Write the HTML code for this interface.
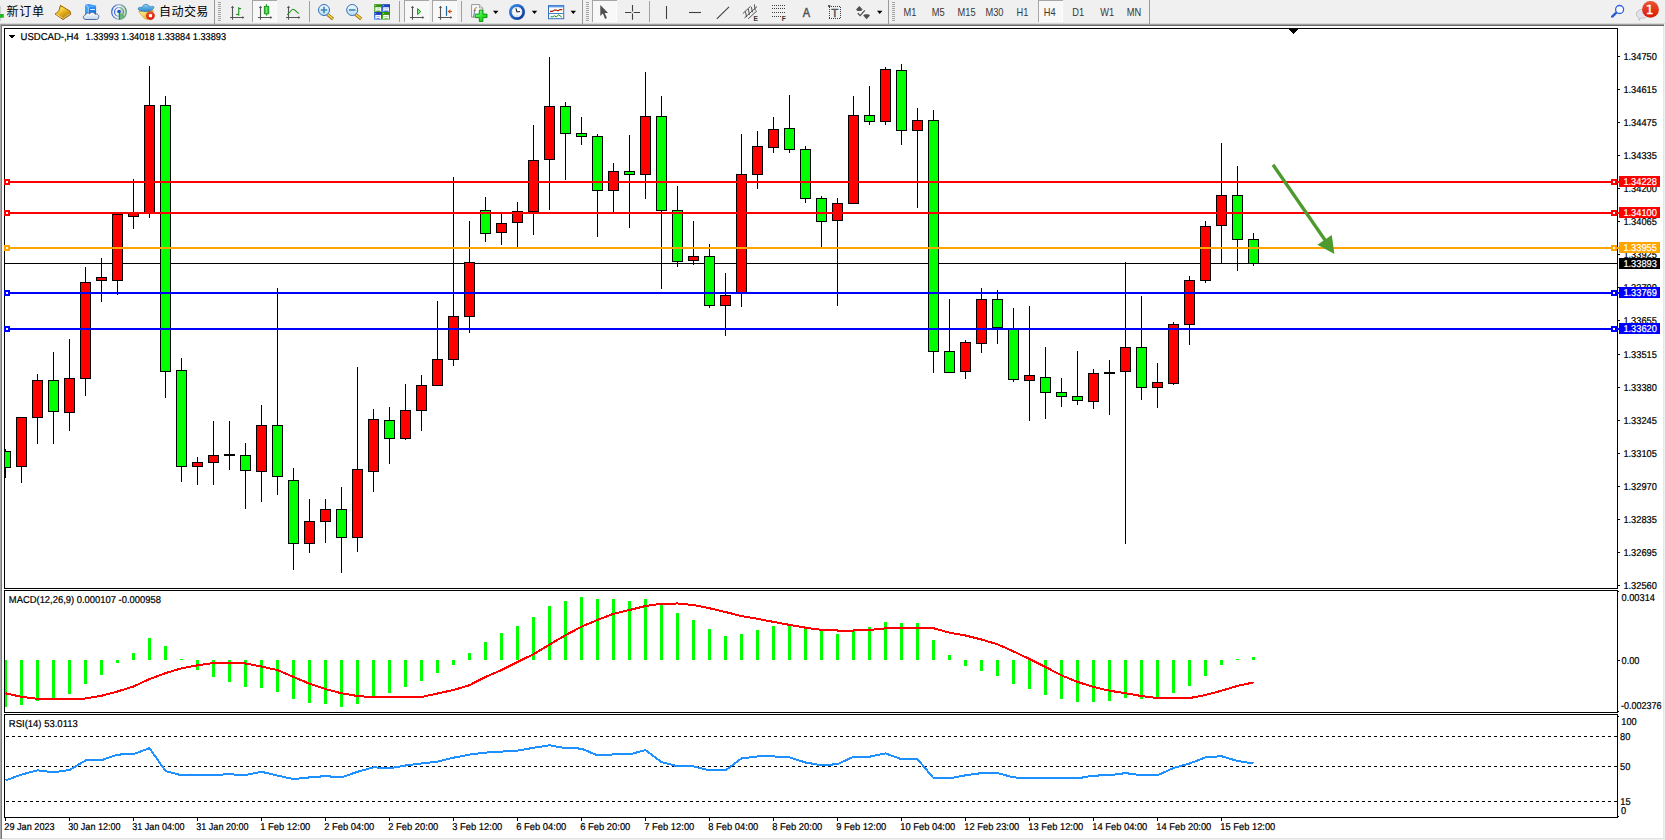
<!DOCTYPE html>
<html lang="zh"><head><meta charset="utf-8"><title>USDCAD-,H4</title>
<style>
html,body{margin:0;padding:0;width:1665px;height:840px;overflow:hidden;background:#f0f0f0;}
body{position:relative;font-family:"Liberation Sans","Noto Sans CJK SC",sans-serif;}
#chart{position:absolute;left:0;top:0;width:1665px;height:840px;}
#chart text{font-family:"Liberation Sans","Noto Sans CJK SC",sans-serif;font-size:10.0px;stroke-width:.22px;text-rendering:geometricPrecision;}
#tb{position:absolute;left:0;top:0;width:1665px;height:23px;background:#f0f0f0;}
#tb svg{position:absolute;overflow:visible;}
#tbs text{font-family:"Liberation Sans","Noto Sans CJK SC",sans-serif;}
</style></head><body>
<svg id="chart" width="1665" height="840" viewBox="0 0 1665 840" shape-rendering="crispEdges">
<rect x="2" y="26" width="1661" height="812" fill="#fff"/>
<rect x="0" y="24" width="1" height="816" fill="#a8a8a8"/>
<rect x="1" y="24" width="1" height="816" fill="#787878"/>
<rect x="1663" y="26" width="1" height="813" fill="#e6e6e6"/>
<rect x="1664" y="24" width="1" height="816" fill="#f0f0f0"/>
<rect x="2" y="838" width="1663" height="1" fill="#e3e3e3"/>
<rect x="0" y="839" width="1665" height="1" fill="#f0f0f0"/>
<rect x="4" y="28" width="1614" height="1" fill="#000"/><rect x="4" y="588" width="1614" height="1" fill="#000"/><rect x="4" y="28" width="1" height="561" fill="#000"/><rect x="1617" y="28" width="1" height="561" fill="#000"/>
<rect x="4" y="590" width="1614" height="1" fill="#000"/><rect x="4" y="712" width="1614" height="1" fill="#000"/><rect x="4" y="590" width="1" height="123" fill="#000"/><rect x="1617" y="590" width="1" height="123" fill="#000"/>
<rect x="4" y="714" width="1614" height="1" fill="#000"/><rect x="4" y="817" width="1614" height="1" fill="#000"/><rect x="4" y="714" width="1" height="104" fill="#000"/><rect x="1617" y="714" width="1" height="104" fill="#000"/>
<rect x="1289" y="29" width="9" height="1" fill="#000"/>
<rect x="1290" y="30" width="7" height="1" fill="#000"/>
<rect x="1291" y="31" width="5" height="1" fill="#000"/>
<rect x="1292" y="32" width="3" height="1" fill="#000"/>
<rect x="1293" y="33" width="1" height="1" fill="#000"/>
<rect x="5" y="263" width="1612" height="1" fill="#000"/>
<clipPath id="cc"><rect x="5" y="29" width="1612" height="559"/></clipPath><g clip-path="url(#cc)">
<rect x="5" y="449" width="1" height="29" fill="#000"/>
<rect x="0" y="451" width="11" height="17" fill="#000"/>
<rect x="1" y="452" width="9" height="15" fill="#00ff00"/>
<rect x="21" y="417" width="1" height="66" fill="#000"/>
<rect x="16" y="417" width="11" height="50" fill="#000"/>
<rect x="17" y="418" width="9" height="48" fill="#ff0000"/>
<rect x="37" y="374" width="1" height="70" fill="#000"/>
<rect x="32" y="380" width="11" height="38" fill="#000"/>
<rect x="33" y="381" width="9" height="36" fill="#ff0000"/>
<rect x="53" y="352" width="1" height="92" fill="#000"/>
<rect x="48" y="380" width="11" height="32" fill="#000"/>
<rect x="49" y="381" width="9" height="30" fill="#00ff00"/>
<rect x="69" y="339" width="1" height="92" fill="#000"/>
<rect x="64" y="378" width="11" height="35" fill="#000"/>
<rect x="65" y="379" width="9" height="33" fill="#ff0000"/>
<rect x="85" y="267" width="1" height="129" fill="#000"/>
<rect x="80" y="282" width="11" height="97" fill="#000"/>
<rect x="81" y="283" width="9" height="95" fill="#ff0000"/>
<rect x="101" y="258" width="1" height="44" fill="#000"/>
<rect x="96" y="277" width="11" height="4" fill="#000"/>
<rect x="97" y="278" width="9" height="2" fill="#ff0000"/>
<rect x="117" y="214" width="1" height="81" fill="#000"/>
<rect x="112" y="214" width="11" height="67" fill="#000"/>
<rect x="113" y="215" width="9" height="65" fill="#ff0000"/>
<rect x="133" y="179" width="1" height="50" fill="#000"/>
<rect x="128" y="213" width="11" height="4" fill="#000"/>
<rect x="129" y="214" width="9" height="2" fill="#ff0000"/>
<rect x="149" y="66" width="1" height="152" fill="#000"/>
<rect x="144" y="105" width="11" height="109" fill="#000"/>
<rect x="145" y="106" width="9" height="107" fill="#ff0000"/>
<rect x="165" y="96" width="1" height="302" fill="#000"/>
<rect x="160" y="105" width="11" height="267" fill="#000"/>
<rect x="161" y="106" width="9" height="265" fill="#00ff00"/>
<rect x="181" y="358" width="1" height="124" fill="#000"/>
<rect x="176" y="370" width="11" height="97" fill="#000"/>
<rect x="177" y="371" width="9" height="95" fill="#00ff00"/>
<rect x="197" y="457" width="1" height="28" fill="#000"/>
<rect x="192" y="462" width="11" height="5" fill="#000"/>
<rect x="193" y="463" width="9" height="3" fill="#ff0000"/>
<rect x="213" y="421" width="1" height="64" fill="#000"/>
<rect x="208" y="455" width="11" height="8" fill="#000"/>
<rect x="209" y="456" width="9" height="6" fill="#ff0000"/>
<rect x="229" y="421" width="1" height="49" fill="#000"/>
<rect x="224" y="454" width="11" height="2" fill="#000"/>
<rect x="245" y="443" width="1" height="66" fill="#000"/>
<rect x="240" y="455" width="11" height="16" fill="#000"/>
<rect x="241" y="456" width="9" height="14" fill="#00ff00"/>
<rect x="261" y="405" width="1" height="97" fill="#000"/>
<rect x="256" y="425" width="11" height="47" fill="#000"/>
<rect x="257" y="426" width="9" height="45" fill="#ff0000"/>
<rect x="277" y="288" width="1" height="207" fill="#000"/>
<rect x="272" y="425" width="11" height="52" fill="#000"/>
<rect x="273" y="426" width="9" height="50" fill="#00ff00"/>
<rect x="293" y="468" width="1" height="102" fill="#000"/>
<rect x="288" y="480" width="11" height="64" fill="#000"/>
<rect x="289" y="481" width="9" height="62" fill="#00ff00"/>
<rect x="309" y="499" width="1" height="54" fill="#000"/>
<rect x="304" y="521" width="11" height="23" fill="#000"/>
<rect x="305" y="522" width="9" height="21" fill="#ff0000"/>
<rect x="325" y="499" width="1" height="44" fill="#000"/>
<rect x="320" y="509" width="11" height="13" fill="#000"/>
<rect x="321" y="510" width="9" height="11" fill="#ff0000"/>
<rect x="341" y="487" width="1" height="86" fill="#000"/>
<rect x="336" y="509" width="11" height="29" fill="#000"/>
<rect x="337" y="510" width="9" height="27" fill="#00ff00"/>
<rect x="357" y="367" width="1" height="185" fill="#000"/>
<rect x="352" y="469" width="11" height="69" fill="#000"/>
<rect x="353" y="470" width="9" height="67" fill="#ff0000"/>
<rect x="373" y="409" width="1" height="83" fill="#000"/>
<rect x="368" y="419" width="11" height="53" fill="#000"/>
<rect x="369" y="420" width="9" height="51" fill="#ff0000"/>
<rect x="389" y="407" width="1" height="57" fill="#000"/>
<rect x="384" y="420" width="11" height="19" fill="#000"/>
<rect x="385" y="421" width="9" height="17" fill="#00ff00"/>
<rect x="405" y="384" width="1" height="56" fill="#000"/>
<rect x="400" y="410" width="11" height="29" fill="#000"/>
<rect x="401" y="411" width="9" height="27" fill="#ff0000"/>
<rect x="421" y="375" width="1" height="56" fill="#000"/>
<rect x="416" y="385" width="11" height="26" fill="#000"/>
<rect x="417" y="386" width="9" height="24" fill="#ff0000"/>
<rect x="437" y="301" width="1" height="85" fill="#000"/>
<rect x="432" y="359" width="11" height="27" fill="#000"/>
<rect x="433" y="360" width="9" height="25" fill="#ff0000"/>
<rect x="453" y="177" width="1" height="189" fill="#000"/>
<rect x="448" y="316" width="11" height="44" fill="#000"/>
<rect x="449" y="317" width="9" height="42" fill="#ff0000"/>
<rect x="469" y="221" width="1" height="112" fill="#000"/>
<rect x="464" y="262" width="11" height="55" fill="#000"/>
<rect x="465" y="263" width="9" height="53" fill="#ff0000"/>
<rect x="485" y="197" width="1" height="45" fill="#000"/>
<rect x="480" y="210" width="11" height="24" fill="#000"/>
<rect x="481" y="211" width="9" height="22" fill="#00ff00"/>
<rect x="501" y="214" width="1" height="31" fill="#000"/>
<rect x="496" y="223" width="11" height="10" fill="#000"/>
<rect x="497" y="224" width="9" height="8" fill="#ff0000"/>
<rect x="517" y="202" width="1" height="45" fill="#000"/>
<rect x="512" y="211" width="11" height="12" fill="#000"/>
<rect x="513" y="212" width="9" height="10" fill="#ff0000"/>
<rect x="533" y="125" width="1" height="110" fill="#000"/>
<rect x="528" y="160" width="11" height="52" fill="#000"/>
<rect x="529" y="161" width="9" height="50" fill="#ff0000"/>
<rect x="549" y="57" width="1" height="153" fill="#000"/>
<rect x="544" y="106" width="11" height="54" fill="#000"/>
<rect x="545" y="107" width="9" height="52" fill="#ff0000"/>
<rect x="565" y="102" width="1" height="78" fill="#000"/>
<rect x="560" y="106" width="11" height="28" fill="#000"/>
<rect x="561" y="107" width="9" height="26" fill="#00ff00"/>
<rect x="581" y="117" width="1" height="28" fill="#000"/>
<rect x="576" y="133" width="11" height="4" fill="#000"/>
<rect x="577" y="134" width="9" height="2" fill="#00ff00"/>
<rect x="597" y="134" width="1" height="103" fill="#000"/>
<rect x="592" y="136" width="11" height="55" fill="#000"/>
<rect x="593" y="137" width="9" height="53" fill="#00ff00"/>
<rect x="613" y="163" width="1" height="49" fill="#000"/>
<rect x="608" y="171" width="11" height="20" fill="#000"/>
<rect x="609" y="172" width="9" height="18" fill="#ff0000"/>
<rect x="629" y="135" width="1" height="93" fill="#000"/>
<rect x="624" y="171" width="11" height="4" fill="#000"/>
<rect x="625" y="172" width="9" height="2" fill="#00ff00"/>
<rect x="645" y="72" width="1" height="127" fill="#000"/>
<rect x="640" y="116" width="11" height="59" fill="#000"/>
<rect x="641" y="117" width="9" height="57" fill="#ff0000"/>
<rect x="661" y="96" width="1" height="193" fill="#000"/>
<rect x="656" y="116" width="11" height="95" fill="#000"/>
<rect x="657" y="117" width="9" height="93" fill="#00ff00"/>
<rect x="677" y="186" width="1" height="81" fill="#000"/>
<rect x="672" y="210" width="11" height="52" fill="#000"/>
<rect x="673" y="211" width="9" height="50" fill="#00ff00"/>
<rect x="693" y="221" width="1" height="44" fill="#000"/>
<rect x="688" y="256" width="11" height="5" fill="#000"/>
<rect x="689" y="257" width="9" height="3" fill="#ff0000"/>
<rect x="709" y="244" width="1" height="64" fill="#000"/>
<rect x="704" y="256" width="11" height="50" fill="#000"/>
<rect x="705" y="257" width="9" height="48" fill="#00ff00"/>
<rect x="725" y="273" width="1" height="63" fill="#000"/>
<rect x="720" y="295" width="11" height="11" fill="#000"/>
<rect x="721" y="296" width="9" height="9" fill="#ff0000"/>
<rect x="741" y="134" width="1" height="173" fill="#000"/>
<rect x="736" y="174" width="11" height="120" fill="#000"/>
<rect x="737" y="175" width="9" height="118" fill="#ff0000"/>
<rect x="757" y="131" width="1" height="58" fill="#000"/>
<rect x="752" y="146" width="11" height="29" fill="#000"/>
<rect x="753" y="147" width="9" height="27" fill="#ff0000"/>
<rect x="773" y="117" width="1" height="36" fill="#000"/>
<rect x="768" y="129" width="11" height="19" fill="#000"/>
<rect x="769" y="130" width="9" height="17" fill="#ff0000"/>
<rect x="789" y="95" width="1" height="58" fill="#000"/>
<rect x="784" y="128" width="11" height="22" fill="#000"/>
<rect x="785" y="129" width="9" height="20" fill="#00ff00"/>
<rect x="805" y="146" width="1" height="57" fill="#000"/>
<rect x="800" y="149" width="11" height="50" fill="#000"/>
<rect x="801" y="150" width="9" height="48" fill="#00ff00"/>
<rect x="821" y="196" width="1" height="51" fill="#000"/>
<rect x="816" y="198" width="11" height="24" fill="#000"/>
<rect x="817" y="199" width="9" height="22" fill="#00ff00"/>
<rect x="837" y="198" width="1" height="108" fill="#000"/>
<rect x="832" y="203" width="11" height="18" fill="#000"/>
<rect x="833" y="204" width="9" height="16" fill="#ff0000"/>
<rect x="853" y="96" width="1" height="108" fill="#000"/>
<rect x="848" y="115" width="11" height="89" fill="#000"/>
<rect x="849" y="116" width="9" height="87" fill="#ff0000"/>
<rect x="869" y="86" width="1" height="39" fill="#000"/>
<rect x="864" y="115" width="11" height="7" fill="#000"/>
<rect x="865" y="116" width="9" height="5" fill="#00ff00"/>
<rect x="885" y="67" width="1" height="58" fill="#000"/>
<rect x="880" y="69" width="11" height="53" fill="#000"/>
<rect x="881" y="70" width="9" height="51" fill="#ff0000"/>
<rect x="901" y="64" width="1" height="81" fill="#000"/>
<rect x="896" y="70" width="11" height="61" fill="#000"/>
<rect x="897" y="71" width="9" height="59" fill="#00ff00"/>
<rect x="917" y="108" width="1" height="100" fill="#000"/>
<rect x="912" y="120" width="11" height="11" fill="#000"/>
<rect x="913" y="121" width="9" height="9" fill="#ff0000"/>
<rect x="933" y="110" width="1" height="263" fill="#000"/>
<rect x="928" y="120" width="11" height="232" fill="#000"/>
<rect x="929" y="121" width="9" height="230" fill="#00ff00"/>
<rect x="949" y="299" width="1" height="74" fill="#000"/>
<rect x="944" y="351" width="11" height="22" fill="#000"/>
<rect x="945" y="352" width="9" height="20" fill="#00ff00"/>
<rect x="965" y="340" width="1" height="39" fill="#000"/>
<rect x="960" y="342" width="11" height="30" fill="#000"/>
<rect x="961" y="343" width="9" height="28" fill="#ff0000"/>
<rect x="981" y="288" width="1" height="65" fill="#000"/>
<rect x="976" y="299" width="11" height="45" fill="#000"/>
<rect x="977" y="300" width="9" height="43" fill="#ff0000"/>
<rect x="997" y="290" width="1" height="54" fill="#000"/>
<rect x="992" y="299" width="11" height="29" fill="#000"/>
<rect x="993" y="300" width="9" height="27" fill="#00ff00"/>
<rect x="1013" y="308" width="1" height="74" fill="#000"/>
<rect x="1008" y="329" width="11" height="51" fill="#000"/>
<rect x="1009" y="330" width="9" height="49" fill="#00ff00"/>
<rect x="1029" y="306" width="1" height="115" fill="#000"/>
<rect x="1024" y="375" width="11" height="6" fill="#000"/>
<rect x="1025" y="376" width="9" height="4" fill="#ff0000"/>
<rect x="1045" y="347" width="1" height="72" fill="#000"/>
<rect x="1040" y="377" width="11" height="16" fill="#000"/>
<rect x="1041" y="378" width="9" height="14" fill="#00ff00"/>
<rect x="1061" y="378" width="1" height="29" fill="#000"/>
<rect x="1056" y="392" width="11" height="5" fill="#000"/>
<rect x="1057" y="393" width="9" height="3" fill="#00ff00"/>
<rect x="1077" y="351" width="1" height="54" fill="#000"/>
<rect x="1072" y="396" width="11" height="5" fill="#000"/>
<rect x="1073" y="397" width="9" height="3" fill="#00ff00"/>
<rect x="1093" y="369" width="1" height="40" fill="#000"/>
<rect x="1088" y="373" width="11" height="29" fill="#000"/>
<rect x="1089" y="374" width="9" height="27" fill="#ff0000"/>
<rect x="1109" y="360" width="1" height="55" fill="#000"/>
<rect x="1104" y="372" width="11" height="2" fill="#000"/>
<rect x="1125" y="262" width="1" height="282" fill="#000"/>
<rect x="1120" y="347" width="11" height="25" fill="#000"/>
<rect x="1121" y="348" width="9" height="23" fill="#ff0000"/>
<rect x="1141" y="296" width="1" height="104" fill="#000"/>
<rect x="1136" y="347" width="11" height="41" fill="#000"/>
<rect x="1137" y="348" width="9" height="39" fill="#00ff00"/>
<rect x="1157" y="363" width="1" height="45" fill="#000"/>
<rect x="1152" y="382" width="11" height="6" fill="#000"/>
<rect x="1153" y="383" width="9" height="4" fill="#ff0000"/>
<rect x="1173" y="322" width="1" height="63" fill="#000"/>
<rect x="1168" y="324" width="11" height="60" fill="#000"/>
<rect x="1169" y="325" width="9" height="58" fill="#ff0000"/>
<rect x="1189" y="276" width="1" height="69" fill="#000"/>
<rect x="1184" y="280" width="11" height="45" fill="#000"/>
<rect x="1185" y="281" width="9" height="43" fill="#ff0000"/>
<rect x="1205" y="221" width="1" height="62" fill="#000"/>
<rect x="1200" y="226" width="11" height="55" fill="#000"/>
<rect x="1201" y="227" width="9" height="53" fill="#ff0000"/>
<rect x="1221" y="143" width="1" height="121" fill="#000"/>
<rect x="1216" y="195" width="11" height="31" fill="#000"/>
<rect x="1217" y="196" width="9" height="29" fill="#ff0000"/>
<rect x="1237" y="166" width="1" height="105" fill="#000"/>
<rect x="1232" y="195" width="11" height="45" fill="#000"/>
<rect x="1233" y="196" width="9" height="43" fill="#00ff00"/>
<rect x="1253" y="233" width="1" height="33" fill="#000"/>
<rect x="1248" y="239" width="11" height="25" fill="#000"/>
<rect x="1249" y="240" width="9" height="23" fill="#00ff00"/>
</g>
<rect x="4" y="181" width="1615" height="2" fill="#ff0000"/>
<rect x="4" y="179" width="6" height="6" fill="#ff0000"/>
<rect x="6" y="181" width="2" height="2" fill="#fff"/>
<rect x="1611" y="179" width="6" height="6" fill="#ff0000"/>
<rect x="1613" y="181" width="2" height="2" fill="#fff"/>
<rect x="4" y="212" width="1615" height="2" fill="#ff0000"/>
<rect x="4" y="210" width="6" height="6" fill="#ff0000"/>
<rect x="6" y="212" width="2" height="2" fill="#fff"/>
<rect x="1611" y="210" width="6" height="6" fill="#ff0000"/>
<rect x="1613" y="212" width="2" height="2" fill="#fff"/>
<rect x="4" y="247" width="1615" height="2" fill="#ffa500"/>
<rect x="4" y="245" width="6" height="6" fill="#ffa500"/>
<rect x="6" y="247" width="2" height="2" fill="#fff"/>
<rect x="1611" y="245" width="6" height="6" fill="#ffa500"/>
<rect x="1613" y="247" width="2" height="2" fill="#fff"/>
<rect x="4" y="292" width="1615" height="2" fill="#0000ff"/>
<rect x="4" y="290" width="6" height="6" fill="#0000ff"/>
<rect x="6" y="292" width="2" height="2" fill="#fff"/>
<rect x="1611" y="290" width="6" height="6" fill="#0000ff"/>
<rect x="1613" y="292" width="2" height="2" fill="#fff"/>
<rect x="4" y="328" width="1615" height="2" fill="#0000ff"/>
<rect x="4" y="326" width="6" height="6" fill="#0000ff"/>
<rect x="6" y="328" width="2" height="2" fill="#fff"/>
<rect x="1611" y="326" width="6" height="6" fill="#0000ff"/>
<rect x="1613" y="328" width="2" height="2" fill="#fff"/>
<g shape-rendering="geometricPrecision"><line x1="1273" y1="164.8" x2="1326" y2="241.5" stroke="#4e9a2e" stroke-width="3.3"/><path d="M1334.4 253.9 L1317.4 244.7 L1331.8 234.9 Z" fill="#4e9a2e"/></g>
<rect x="1618" y="56" width="2" height="1" fill="#000"/>
<text transform="translate(1623.4,59.55) scale(0.925,1)" fill="#000" stroke="#000" text-anchor="start">1.34750</text>
<rect x="1618" y="89" width="2" height="1" fill="#000"/>
<text transform="translate(1623.4,92.55) scale(0.925,1)" fill="#000" stroke="#000" text-anchor="start">1.34615</text>
<rect x="1618" y="122" width="2" height="1" fill="#000"/>
<text transform="translate(1623.4,125.55) scale(0.925,1)" fill="#000" stroke="#000" text-anchor="start">1.34475</text>
<rect x="1618" y="155" width="2" height="1" fill="#000"/>
<text transform="translate(1623.4,158.55) scale(0.925,1)" fill="#000" stroke="#000" text-anchor="start">1.34335</text>
<rect x="1618" y="188" width="2" height="1" fill="#000"/>
<text transform="translate(1623.4,191.55) scale(0.925,1)" fill="#000" stroke="#000" text-anchor="start">1.34200</text>
<rect x="1618" y="221" width="2" height="1" fill="#000"/>
<text transform="translate(1623.4,224.55) scale(0.925,1)" fill="#000" stroke="#000" text-anchor="start">1.34065</text>
<rect x="1618" y="254" width="2" height="1" fill="#000"/>
<text transform="translate(1623.4,257.55) scale(0.925,1)" fill="#000" stroke="#000" text-anchor="start">1.33925</text>
<rect x="1618" y="287" width="2" height="1" fill="#000"/>
<text transform="translate(1623.4,290.55) scale(0.925,1)" fill="#000" stroke="#000" text-anchor="start">1.33790</text>
<rect x="1618" y="320" width="2" height="1" fill="#000"/>
<text transform="translate(1623.4,323.55) scale(0.925,1)" fill="#000" stroke="#000" text-anchor="start">1.33655</text>
<rect x="1618" y="354" width="2" height="1" fill="#000"/>
<text transform="translate(1623.4,357.55) scale(0.925,1)" fill="#000" stroke="#000" text-anchor="start">1.33515</text>
<rect x="1618" y="387" width="2" height="1" fill="#000"/>
<text transform="translate(1623.4,390.55) scale(0.925,1)" fill="#000" stroke="#000" text-anchor="start">1.33380</text>
<rect x="1618" y="420" width="2" height="1" fill="#000"/>
<text transform="translate(1623.4,423.55) scale(0.925,1)" fill="#000" stroke="#000" text-anchor="start">1.33245</text>
<rect x="1618" y="453" width="2" height="1" fill="#000"/>
<text transform="translate(1623.4,456.55) scale(0.925,1)" fill="#000" stroke="#000" text-anchor="start">1.33105</text>
<rect x="1618" y="486" width="2" height="1" fill="#000"/>
<text transform="translate(1623.4,489.55) scale(0.925,1)" fill="#000" stroke="#000" text-anchor="start">1.32970</text>
<rect x="1618" y="519" width="2" height="1" fill="#000"/>
<text transform="translate(1623.4,522.55) scale(0.925,1)" fill="#000" stroke="#000" text-anchor="start">1.32835</text>
<rect x="1618" y="552" width="2" height="1" fill="#000"/>
<text transform="translate(1623.4,555.55) scale(0.925,1)" fill="#000" stroke="#000" text-anchor="start">1.32695</text>
<rect x="1618" y="585" width="2" height="1" fill="#000"/>
<text transform="translate(1623.4,588.55) scale(0.925,1)" fill="#000" stroke="#000" text-anchor="start">1.32560</text>
<rect x="1619" y="176" width="41" height="11" fill="#ff0000"/>
<text transform="translate(1623.4,184.55) scale(0.925,1)" fill="#fff" stroke="#fff" text-anchor="start">1.34228</text>
<rect x="1619" y="207" width="41" height="11" fill="#ff0000"/>
<text transform="translate(1623.4,215.55) scale(0.925,1)" fill="#fff" stroke="#fff" text-anchor="start">1.34100</text>
<rect x="1619" y="242" width="41" height="11" fill="#ffa500"/>
<text transform="translate(1623.4,250.55) scale(0.925,1)" fill="#fff" stroke="#fff" text-anchor="start">1.33955</text>
<rect x="1619" y="287" width="41" height="11" fill="#0000ff"/>
<text transform="translate(1623.4,295.55) scale(0.925,1)" fill="#fff" stroke="#fff" text-anchor="start">1.33769</text>
<rect x="1619" y="323" width="41" height="11" fill="#0000ff"/>
<text transform="translate(1623.4,331.55) scale(0.925,1)" fill="#fff" stroke="#fff" text-anchor="start">1.33620</text>
<rect x="1619" y="258" width="41" height="11" fill="#000"/>
<text transform="translate(1623.4,266.55) scale(0.925,1)" fill="#fff" stroke="#fff" text-anchor="start">1.33893</text>
<path d="M8 35 L15 35 L11.5 38.5 Z" fill="#000"/>
<text x="20.6" y="39.55" fill="#000" stroke="#000" textLength="58.2" lengthAdjust="spacingAndGlyphs">USDCAD-,H4</text>
<text x="85.6" y="39.55" fill="#000" stroke="#000" textLength="140.4" lengthAdjust="spacingAndGlyphs">1.33993 1.34018 1.33884 1.33893</text>
<text x="8.8" y="602.55" fill="#000" stroke="#000" textLength="152.2" lengthAdjust="spacingAndGlyphs">MACD(12,26,9) 0.000107 -0.000958</text>
<rect x="5" y="660" width="2" height="47" fill="#00ff00"/>
<rect x="20" y="660" width="3" height="45" fill="#00ff00"/>
<rect x="36" y="660" width="3" height="41" fill="#00ff00"/>
<rect x="52" y="660" width="3" height="39" fill="#00ff00"/>
<rect x="68" y="660" width="3" height="34" fill="#00ff00"/>
<rect x="84" y="660" width="3" height="24" fill="#00ff00"/>
<rect x="100" y="660" width="3" height="15" fill="#00ff00"/>
<rect x="116" y="660" width="3" height="3" fill="#00ff00"/>
<rect x="132" y="653" width="3" height="7" fill="#00ff00"/>
<rect x="148" y="638" width="3" height="22" fill="#00ff00"/>
<rect x="164" y="646" width="3" height="14" fill="#00ff00"/>
<rect x="180" y="659" width="3" height="1" fill="#00ff00"/>
<rect x="196" y="660" width="3" height="10" fill="#00ff00"/>
<rect x="212" y="660" width="3" height="17" fill="#00ff00"/>
<rect x="228" y="660" width="3" height="22" fill="#00ff00"/>
<rect x="244" y="660" width="3" height="27" fill="#00ff00"/>
<rect x="260" y="660" width="3" height="28" fill="#00ff00"/>
<rect x="276" y="660" width="3" height="32" fill="#00ff00"/>
<rect x="292" y="660" width="3" height="39" fill="#00ff00"/>
<rect x="308" y="660" width="3" height="43" fill="#00ff00"/>
<rect x="324" y="660" width="3" height="44" fill="#00ff00"/>
<rect x="340" y="660" width="3" height="47" fill="#00ff00"/>
<rect x="356" y="660" width="3" height="44" fill="#00ff00"/>
<rect x="372" y="660" width="3" height="37" fill="#00ff00"/>
<rect x="388" y="660" width="3" height="33" fill="#00ff00"/>
<rect x="404" y="660" width="3" height="27" fill="#00ff00"/>
<rect x="420" y="660" width="3" height="21" fill="#00ff00"/>
<rect x="436" y="660" width="3" height="13" fill="#00ff00"/>
<rect x="452" y="660" width="3" height="5" fill="#00ff00"/>
<rect x="468" y="653" width="3" height="7" fill="#00ff00"/>
<rect x="484" y="642" width="3" height="18" fill="#00ff00"/>
<rect x="500" y="633" width="3" height="27" fill="#00ff00"/>
<rect x="516" y="626" width="3" height="34" fill="#00ff00"/>
<rect x="532" y="617" width="3" height="43" fill="#00ff00"/>
<rect x="548" y="606" width="3" height="54" fill="#00ff00"/>
<rect x="564" y="601" width="3" height="59" fill="#00ff00"/>
<rect x="580" y="597" width="3" height="63" fill="#00ff00"/>
<rect x="596" y="599" width="3" height="61" fill="#00ff00"/>
<rect x="612" y="599" width="3" height="61" fill="#00ff00"/>
<rect x="628" y="601" width="3" height="59" fill="#00ff00"/>
<rect x="644" y="599" width="3" height="61" fill="#00ff00"/>
<rect x="660" y="603" width="3" height="57" fill="#00ff00"/>
<rect x="676" y="613" width="3" height="47" fill="#00ff00"/>
<rect x="692" y="620" width="3" height="40" fill="#00ff00"/>
<rect x="708" y="629" width="3" height="31" fill="#00ff00"/>
<rect x="724" y="636" width="3" height="24" fill="#00ff00"/>
<rect x="740" y="634" width="3" height="26" fill="#00ff00"/>
<rect x="756" y="630" width="3" height="30" fill="#00ff00"/>
<rect x="772" y="626" width="3" height="34" fill="#00ff00"/>
<rect x="788" y="625" width="3" height="35" fill="#00ff00"/>
<rect x="804" y="628" width="3" height="32" fill="#00ff00"/>
<rect x="820" y="630" width="3" height="30" fill="#00ff00"/>
<rect x="836" y="634" width="3" height="26" fill="#00ff00"/>
<rect x="852" y="630" width="3" height="30" fill="#00ff00"/>
<rect x="868" y="627" width="3" height="33" fill="#00ff00"/>
<rect x="884" y="622" width="3" height="38" fill="#00ff00"/>
<rect x="900" y="623" width="3" height="37" fill="#00ff00"/>
<rect x="916" y="623" width="3" height="37" fill="#00ff00"/>
<rect x="932" y="640" width="3" height="20" fill="#00ff00"/>
<rect x="948" y="655" width="3" height="5" fill="#00ff00"/>
<rect x="964" y="660" width="3" height="6" fill="#00ff00"/>
<rect x="980" y="660" width="3" height="11" fill="#00ff00"/>
<rect x="996" y="660" width="3" height="16" fill="#00ff00"/>
<rect x="1012" y="660" width="3" height="24" fill="#00ff00"/>
<rect x="1028" y="660" width="3" height="29" fill="#00ff00"/>
<rect x="1044" y="660" width="3" height="35" fill="#00ff00"/>
<rect x="1060" y="660" width="3" height="39" fill="#00ff00"/>
<rect x="1076" y="660" width="3" height="42" fill="#00ff00"/>
<rect x="1092" y="660" width="3" height="42" fill="#00ff00"/>
<rect x="1108" y="660" width="3" height="41" fill="#00ff00"/>
<rect x="1124" y="660" width="3" height="38" fill="#00ff00"/>
<rect x="1140" y="660" width="3" height="39" fill="#00ff00"/>
<rect x="1156" y="660" width="3" height="38" fill="#00ff00"/>
<rect x="1172" y="660" width="3" height="33" fill="#00ff00"/>
<rect x="1188" y="660" width="3" height="26" fill="#00ff00"/>
<rect x="1204" y="660" width="3" height="16" fill="#00ff00"/>
<rect x="1220" y="660" width="3" height="5" fill="#00ff00"/>
<rect x="1236" y="659" width="3" height="1" fill="#00ff00"/>
<rect x="1252" y="657" width="3" height="3" fill="#00ff00"/>
<polyline points="5.5,693.3 21.5,696.8 37.5,698.8 53.5,699.1 69.5,699.1 85.5,698.5 101.5,695.8 117.5,691.5 133.5,686.5 149.5,679.1 165.5,673.1 181.5,668.3 197.5,665.3 213.5,663.0 229.5,662.7 245.5,663.5 261.5,666.5 277.5,670.1 293.5,676.9 309.5,683.7 325.5,689.0 341.5,693.3 357.5,696.0 373.5,697.3 389.5,697.3 405.5,697.3 421.5,697.0 437.5,693.5 453.5,690.0 469.5,685.2 485.5,676.9 501.5,670.1 517.5,662.0 533.5,654.2 549.5,644.6 565.5,635.2 581.5,626.7 597.5,619.9 613.5,613.8 629.5,610.0 645.5,606.0 661.5,603.7 677.5,603.5 693.5,605.0 709.5,608.3 725.5,612.0 741.5,616.1 757.5,618.8 773.5,621.9 789.5,624.9 805.5,627.7 821.5,629.9 837.5,630.5 853.5,630.5 869.5,629.9 885.5,628.4 901.5,627.9 917.5,627.7 933.5,628.2 949.5,632.7 965.5,635.5 981.5,639.5 997.5,644.3 1013.5,651.4 1029.5,659.0 1045.5,667.0 1061.5,675.4 1077.5,681.9 1093.5,687.0 1109.5,690.7 1125.5,693.3 1141.5,696.0 1157.5,698.1 1173.5,698.3 1189.5,698.1 1205.5,695.0 1221.5,690.7 1237.5,685.9 1253.5,682.4" fill="none" stroke="#ff0000" stroke-width="2" shape-rendering="crispEdges"/>
<text transform="translate(1621.5,600.55) scale(0.925,1)" fill="#000" stroke="#000" text-anchor="start">0.00314</text>
<rect x="1618" y="660" width="2" height="1" fill="#000"/>
<text transform="translate(1621.5,663.55) scale(0.925,1)" fill="#000" stroke="#000" text-anchor="start">0.00</text>
<text x="1621.0" y="708.55" fill="#000" stroke="#000" textLength="40.6" lengthAdjust="spacingAndGlyphs">-0.002376</text>
<text x="8.8" y="726.55" fill="#000" stroke="#000" textLength="69.0" lengthAdjust="spacingAndGlyphs">RSI(14) 53.0113</text>
<line x1="5" y1="736.5" x2="1617" y2="736.5" stroke="#000" stroke-width="1" stroke-dasharray="3 3" stroke-dashoffset="5" shape-rendering="crispEdges"/>
<line x1="5" y1="766.5" x2="1617" y2="766.5" stroke="#000" stroke-width="1" stroke-dasharray="3 3" stroke-dashoffset="5" shape-rendering="crispEdges"/>
<line x1="5" y1="801.5" x2="1617" y2="801.5" stroke="#000" stroke-width="1" stroke-dasharray="3 3" stroke-dashoffset="5" shape-rendering="crispEdges"/>
<polyline points="5.5,780.4 21.5,774.6 37.5,770.3 53.5,772.3 69.5,770.0 85.5,760.5 101.5,760.2 117.5,754.6 133.5,754.1 149.5,748.1 165.5,771.0 181.5,775.3 197.5,775.3 213.5,774.8 229.5,774.3 245.5,775.1 261.5,771.8 277.5,775.6 293.5,779.1 309.5,777.4 325.5,776.1 341.5,777.4 357.5,771.8 373.5,767.3 389.5,768.3 405.5,765.5 421.5,763.5 437.5,761.7 453.5,757.7 469.5,754.6 485.5,752.6 501.5,751.6 517.5,750.6 533.5,747.8 549.5,745.3 565.5,748.1 581.5,748.6 597.5,755.4 613.5,754.4 629.5,754.4 645.5,750.1 661.5,762.0 677.5,766.3 693.5,766.3 709.5,770.3 725.5,770.3 741.5,758.4 757.5,756.4 773.5,756.4 789.5,757.4 805.5,762.5 821.5,765.2 837.5,764.2 853.5,756.7 869.5,756.7 885.5,753.4 901.5,759.2 917.5,759.2 933.5,778.1 949.5,778.4 965.5,775.3 981.5,773.1 997.5,773.1 1013.5,777.4 1029.5,778.1 1045.5,778.4 1061.5,778.4 1077.5,778.4 1093.5,775.6 1109.5,775.3 1125.5,773.1 1141.5,775.3 1157.5,775.3 1173.5,768.0 1189.5,763.5 1205.5,757.4 1221.5,756.2 1237.5,761.0 1253.5,763.5" fill="none" stroke="#1e90ff" stroke-width="2" shape-rendering="crispEdges"/>
<text transform="translate(1621.3,724.55) scale(0.925,1)" fill="#000" stroke="#000" text-anchor="start">100</text>
<text transform="translate(1620.0,739.55) scale(0.925,1)" fill="#000" stroke="#000" text-anchor="start">80</text>
<text transform="translate(1620.0,769.55) scale(0.925,1)" fill="#000" stroke="#000" text-anchor="start">50</text>
<text transform="translate(1620.3,804.55) scale(0.925,1)" fill="#000" stroke="#000" text-anchor="start">15</text>
<text transform="translate(1621.0,813.55) scale(0.925,1)" fill="#000" stroke="#000" text-anchor="start">0</text>
<rect x="1618" y="591" width="1" height="1" fill="#000"/>
<rect x="1618" y="711" width="1" height="1" fill="#000"/>
<rect x="1618" y="716" width="1" height="1" fill="#000"/>
<rect x="1618" y="816" width="1" height="1" fill="#000"/>
<rect x="5" y="818" width="1" height="3" fill="#000"/>
<text x="4.3" y="829.55" fill="#000" stroke="#000" textLength="50.4" lengthAdjust="spacingAndGlyphs">29 Jan 2023</text>
<rect x="69" y="818" width="1" height="3" fill="#000"/>
<text x="68.3" y="829.55" fill="#000" stroke="#000" textLength="52.2" lengthAdjust="spacingAndGlyphs">30 Jan 12:00</text>
<rect x="133" y="818" width="1" height="3" fill="#000"/>
<text x="132.3" y="829.55" fill="#000" stroke="#000" textLength="52.2" lengthAdjust="spacingAndGlyphs">31 Jan 04:00</text>
<rect x="197" y="818" width="1" height="3" fill="#000"/>
<text x="196.3" y="829.55" fill="#000" stroke="#000" textLength="52.2" lengthAdjust="spacingAndGlyphs">31 Jan 20:00</text>
<rect x="261" y="818" width="1" height="3" fill="#000"/>
<text x="260.3" y="829.55" fill="#000" stroke="#000" textLength="50.0" lengthAdjust="spacingAndGlyphs">1 Feb 12:00</text>
<rect x="325" y="818" width="1" height="3" fill="#000"/>
<text x="324.3" y="829.55" fill="#000" stroke="#000" textLength="50.0" lengthAdjust="spacingAndGlyphs">2 Feb 04:00</text>
<rect x="389" y="818" width="1" height="3" fill="#000"/>
<text x="388.3" y="829.55" fill="#000" stroke="#000" textLength="50.0" lengthAdjust="spacingAndGlyphs">2 Feb 20:00</text>
<rect x="453" y="818" width="1" height="3" fill="#000"/>
<text x="452.3" y="829.55" fill="#000" stroke="#000" textLength="50.0" lengthAdjust="spacingAndGlyphs">3 Feb 12:00</text>
<rect x="517" y="818" width="1" height="3" fill="#000"/>
<text x="516.3" y="829.55" fill="#000" stroke="#000" textLength="50.0" lengthAdjust="spacingAndGlyphs">6 Feb 04:00</text>
<rect x="581" y="818" width="1" height="3" fill="#000"/>
<text x="580.3" y="829.55" fill="#000" stroke="#000" textLength="50.0" lengthAdjust="spacingAndGlyphs">6 Feb 20:00</text>
<rect x="645" y="818" width="1" height="3" fill="#000"/>
<text x="644.3" y="829.55" fill="#000" stroke="#000" textLength="50.0" lengthAdjust="spacingAndGlyphs">7 Feb 12:00</text>
<rect x="709" y="818" width="1" height="3" fill="#000"/>
<text x="708.3" y="829.55" fill="#000" stroke="#000" textLength="50.0" lengthAdjust="spacingAndGlyphs">8 Feb 04:00</text>
<rect x="773" y="818" width="1" height="3" fill="#000"/>
<text x="772.3" y="829.55" fill="#000" stroke="#000" textLength="50.0" lengthAdjust="spacingAndGlyphs">8 Feb 20:00</text>
<rect x="837" y="818" width="1" height="3" fill="#000"/>
<text x="836.3" y="829.55" fill="#000" stroke="#000" textLength="50.0" lengthAdjust="spacingAndGlyphs">9 Feb 12:00</text>
<rect x="901" y="818" width="1" height="3" fill="#000"/>
<text x="900.3" y="829.55" fill="#000" stroke="#000" textLength="55.0" lengthAdjust="spacingAndGlyphs">10 Feb 04:00</text>
<rect x="965" y="818" width="1" height="3" fill="#000"/>
<text x="964.3" y="829.55" fill="#000" stroke="#000" textLength="55.0" lengthAdjust="spacingAndGlyphs">12 Feb 23:00</text>
<rect x="1029" y="818" width="1" height="3" fill="#000"/>
<text x="1028.3" y="829.55" fill="#000" stroke="#000" textLength="55.0" lengthAdjust="spacingAndGlyphs">13 Feb 12:00</text>
<rect x="1093" y="818" width="1" height="3" fill="#000"/>
<text x="1092.3" y="829.55" fill="#000" stroke="#000" textLength="55.0" lengthAdjust="spacingAndGlyphs">14 Feb 04:00</text>
<rect x="1157" y="818" width="1" height="3" fill="#000"/>
<text x="1156.3" y="829.55" fill="#000" stroke="#000" textLength="55.0" lengthAdjust="spacingAndGlyphs">14 Feb 20:00</text>
<rect x="1221" y="818" width="1" height="3" fill="#000"/>
<text x="1220.3" y="829.55" fill="#000" stroke="#000" textLength="55.0" lengthAdjust="spacingAndGlyphs">15 Feb 12:00</text>
</svg>
<div id="tb">
<svg id="tbs" width="1665" height="26" viewBox="0 0 1665 26" style="left:0;top:0">
<defs>
<linearGradient id="gGold" x1=".1" y1="0" x2=".7" y2="1"><stop offset="0" stop-color="#b87c10"/><stop offset=".3" stop-color="#f8dc48"/><stop offset=".6" stop-color="#e0a818"/><stop offset="1" stop-color="#b07410"/></linearGradient>
<linearGradient id="gBlue" x1="0" y1="0" x2="0" y2="1"><stop offset="0" stop-color="#3aa0ff"/><stop offset="1" stop-color="#1668d8"/></linearGradient>
<linearGradient id="gCloud" x1="0" y1="0" x2="0" y2="1"><stop offset="0" stop-color="#ffffff"/><stop offset="1" stop-color="#c4d4ec"/></linearGradient>
<radialGradient id="gRadar" cx=".5" cy=".5" r=".5"><stop offset="0" stop-color="#2050c0"/><stop offset=".25" stop-color="#dfe8f8"/><stop offset=".45" stop-color="#5f86d4"/><stop offset=".6" stop-color="#e8eef8"/><stop offset=".8" stop-color="#6f92d8"/><stop offset="1" stop-color="#e4ebf6"/></radialGradient>
<linearGradient id="gSect" x1="0" y1="1" x2=".6" y2="0"><stop offset="0" stop-color="#30a838"/><stop offset=".6" stop-color="#9cc8a0"/><stop offset="1" stop-color="#d8e8dc"/></linearGradient>
<linearGradient id="gRing" x1="0" y1="0" x2="1" y2="0"><stop offset="0" stop-color="#2c58d0"/><stop offset=".45" stop-color="#9cb0e0"/><stop offset=".7" stop-color="#7ca8a0"/><stop offset="1" stop-color="#4c8c70"/></linearGradient>
<linearGradient id="gHat" x1="0" y1="0" x2="0" y2="1"><stop offset="0" stop-color="#8fd0f4"/><stop offset="1" stop-color="#2a84c8"/></linearGradient>
<linearGradient id="gFace" x1="0" y1="0" x2="1" y2="1"><stop offset="0" stop-color="#fff6a0"/><stop offset="1" stop-color="#e0a810"/></linearGradient>
<linearGradient id="gRed" x1="0" y1="0" x2="0" y2="1"><stop offset="0" stop-color="#ea5636"/><stop offset="1" stop-color="#da1800"/></linearGradient>
<linearGradient id="gLens" x1="0" y1="0" x2="0" y2="1"><stop offset="0" stop-color="#f4fbff"/><stop offset="1" stop-color="#b8dcf0"/></linearGradient>
<linearGradient id="gHandle" x1="0" y1="0" x2="1" y2="0"><stop offset="0" stop-color="#f4dc60"/><stop offset="1" stop-color="#b07c10"/></linearGradient>
<linearGradient id="gGreenC" x1="0" y1="0" x2="1" y2="0"><stop offset="0" stop-color="#18a018"/><stop offset=".5" stop-color="#70f070"/><stop offset="1" stop-color="#18a018"/></linearGradient>
<linearGradient id="gClock" x1="0" y1="0" x2="1" y2="1"><stop offset="0" stop-color="#3c94f8"/><stop offset="1" stop-color="#062c88"/></linearGradient>
<linearGradient id="gPlus" x1="0" y1="0" x2="1" y2="1"><stop offset="0" stop-color="#b0ffb0"/><stop offset=".5" stop-color="#30e830"/><stop offset="1" stop-color="#10b810"/></linearGradient>
<linearGradient id="gTG" x1="0" y1="0" x2="0" y2="1"><stop offset="0" stop-color="#2c8c08"/><stop offset="1" stop-color="#4cb020"/></linearGradient>
<linearGradient id="gTB" x1="0" y1="0" x2="0" y2="1"><stop offset="0" stop-color="#1838b0"/><stop offset="1" stop-color="#3474e4"/></linearGradient>
<g id="axis" fill="none" stroke="#555" stroke-width="1.1">
  <path d="M2.5 6.6V19.8M0 17.5H13.2"/>
  <path d="M0.9 8.1L2.5 5.8L4.1 8.1Z M12.3 15.9L14.3 17.5L12.3 19.1Z" fill="#555" stroke="none"/>
</g>
<g id="selbox"><rect x="0" y="0" width="25" height="22" fill="#f8f8f8"/><rect x="0" y="0" width="25" height="1" fill="#a6a6a6"/><rect x="0" y="0" width="1" height="22" fill="#a6a6a6"/><rect x="24" y="1" width="1" height="21" fill="#fdfdfd"/><rect x="1" y="21" width="24" height="1" fill="#fdfdfd"/></g>
<path id="dd" d="M0 0H5.4L2.7 3.2Z" fill="#000"/>
<g id="grip" fill="#a4a4a4"><rect x="0" y="2" width="3" height="1"/><rect x="0" y="4" width="3" height="1"/><rect x="0" y="6" width="3" height="1"/><rect x="0" y="8" width="3" height="1"/><rect x="0" y="10" width="3" height="1"/><rect x="0" y="12" width="3" height="1"/><rect x="0" y="14" width="3" height="1"/><rect x="0" y="16" width="3" height="1"/><rect x="0" y="18" width="3" height="1"/><rect x="0" y="20" width="3" height="1"/></g>
<g id="sepv"><rect x="0" y="1" width="1" height="21" fill="#a0a0a0"/></g>
<g id="sepf"><rect x="0" y="0" width="1" height="24" fill="#9a9a9a"/></g>
</defs>
<rect x="0" y="23" width="1665" height="1" fill="#d9d9d9"/><rect x="0" y="24" width="1664" height="1" fill="#a0a0a0"/><rect x="1" y="25" width="1663" height="1" fill="#696969"/>
<!-- new order remnant -->
<rect x="0" y="6" width="1.2" height="15" fill="#cfcfcf"/>
<rect x="0" y="14" width="3.8" height="3.8" fill="#22b422"/>
<text x="6.5" y="15.6" font-size="12" letter-spacing=".75" fill="#000">新订单</text>
<!-- book -->
<path d="M60.4 5.3L69.9 11.1L70.8 14.3L63 19.6L55 13.9C57.5 12.6 59 11 59.4 9.1Z" fill="url(#gGold)" stroke="#a2660e" stroke-width="1" stroke-linejoin="round"/>
<path d="M63.3 18.3L70 13.4" stroke="#cfc68c" stroke-width="1" fill="none"/>
<path d="M56.4 14.2L62.8 18.3" stroke="#f9e9a2" stroke-width=".8" fill="none"/>
<!-- cloud server -->
<path d="M85 4.8L88.6 4.1L96.1 5.4V14H85Z" fill="url(#gBlue)"/>
<path d="M85 4.8L88.3 6.9V14H85Z" fill="#2ea4ff"/>
<path d="M85.3 5L88.3 6.9V13.4" stroke="#dff2ff" stroke-width=".7" fill="none"/>
<path d="M88.3 6.9L96 5.6" stroke="#7cc8ff" stroke-width=".6" fill="none"/>
<rect x="90.2" y="9" width="4.6" height="1" fill="#e4f4ff"/>
<path d="M86 19.5C82.6 19.5 82.4 15.6 85.4 15C85.4 12.8 88.6 12.3 89.6 13.8C90.6 11.8 94.4 11.8 95 14.2C97.2 13.4 99.6 15.2 98.6 17.6C98.6 18.8 97.4 19.5 96.4 19.5Z" fill="url(#gCloud)" stroke="#42609c" stroke-width=".9"/>
<!-- radar -->
<circle cx="119" cy="11.9" r="8" fill="#eef0f4"/>
<path d="M119.3 11.9V19.9A8 8 0 0 0 121.4 4.3Z" fill="url(#gSect)" opacity=".55"/>
<path d="M119.3 11.9V19.9A8 8 0 0 0 125.6 16.4Z" fill="#38a840" opacity=".55"/>
<circle cx="119" cy="11.9" r="7.3" fill="none" stroke="url(#gRing)" stroke-width="1.1"/>
<circle cx="119" cy="11.9" r="4.4" fill="none" stroke="url(#gRing)" stroke-width="1.1"/>
<path d="M119.4 11.6V19.7" stroke="#18a01c" stroke-width="1.3"/>
<circle cx="119" cy="11.5" r="1.8" fill="#2450cc"/>
<!-- auto trading -->
<path d="M138.6 11.6L153.6 10.6L147.4 19.5L144.6 18.6Z" fill="url(#gFace)" stroke="#cc9410" stroke-width=".6"/>
<path d="M138.2 8.8C138.2 7 140.6 7 142.1 7.8C142.6 3.4 149 3.2 149.6 7.2C151.2 6 154.2 5.9 153.9 7.7C153.2 10.2 148.4 11.7 144.8 11.5C141.4 11.3 138.2 10.6 138.2 8.8Z" fill="url(#gHat)" stroke="#2878b0" stroke-width=".7"/>
<circle cx="150.4" cy="15.6" r="4.2" fill="url(#gRed)" stroke="#b81800" stroke-width=".4"/>
<rect x="148.9" y="14.1" width="3.1" height="3.1" fill="#fff"/>
<text x="159" y="15.6" font-size="12" letter-spacing=".45" fill="#000">自动交易</text>
<use href="#sepf" x="214"/><use href="#grip" x="218"/>
<!-- bar chart -->
<use href="#axis" x="230"/>
<g fill="#17931b"><rect x="238.2" y="7.2" width="1.1" height="8.5"/><rect x="239" y="8" width="2.1" height="1.1"/><rect x="236.1" y="13.9" width="2.3" height="1.1"/></g>
<!-- candle (selected) -->
<use href="#selbox" x="252"/>
<use href="#axis" x="258"/>
<path d="M266.5 4.3V15.6" stroke="#14961a" stroke-width="1.2"/>
<rect x="264.3" y="6.4" width="4.5" height="7.4" fill="url(#gGreenC)" stroke="#14961a" stroke-width=".8"/>
<!-- line chart -->
<use href="#axis" x="286"/>
<path d="M287.2 14.8C290 13 291.2 9.2 293 9.2C295 9.2 296.4 12.4 298.8 13.4" stroke="#1a961a" stroke-width="1.1" fill="none"/>
<use href="#sepv" x="309"/>
<!-- zoom in -->
<path d="M327.2 14.2L333 18.9" stroke="#9a6a08" stroke-width="3.2"/>
<path d="M327.2 14.2L332.7 18.7" stroke="#f2d448" stroke-width="1.7"/>
<circle cx="324" cy="10" r="5.5" fill="url(#gLens)" stroke="#2f6fbe" stroke-width="1"/>
<path d="M320.8 10H327.2M324 6.8V13.2" stroke="#3a86b4" stroke-width="1.6"/>
<!-- zoom out -->
<path d="M355.4 14.2L361.2 18.9" stroke="#9a6a08" stroke-width="3.2"/>
<path d="M355.4 14.2L360.9 18.7" stroke="#f2d448" stroke-width="1.7"/>
<circle cx="352.2" cy="10" r="5.5" fill="url(#gLens)" stroke="#2f6fbe" stroke-width="1"/>
<path d="M349 10H355.4" stroke="#3a86b4" stroke-width="1.6"/>
<!-- tile -->
<rect x="374.2" y="4.2" width="7.9" height="7.7" fill="url(#gTG)"/><rect x="382.1" y="4.2" width="7.9" height="7.7" fill="url(#gTB)"/>
<rect x="374.2" y="11.9" width="7.9" height="7.7" fill="url(#gTB)"/><rect x="382.1" y="11.9" width="7.9" height="7.7" fill="url(#gTG)"/>
<g fill="#fff">
<path d="M375.3 7.3H381V11.3H379.9V10.6H376.4V11.3H375.3Z M383.2 7.3H388.9V11.3H387.8V10.6H384.3V11.3H383.2Z M375.3 15H381V19H379.9V18.3H376.4V19H375.3Z M383.2 15H388.9V19H387.8V18.3H384.3V19H383.2Z"/>
<rect x="375.3" y="5.2" width=".9" height=".9" opacity=".8"/><rect x="383.2" y="5.2" width=".9" height=".9" opacity=".8"/><rect x="375.3" y="12.9" width=".9" height=".9" opacity=".8"/><rect x="383.2" y="12.9" width=".9" height=".9" opacity=".8"/>
</g>
<g><rect x="376.4" y="8.4" width="3.5" height=".9" fill="#a8dc90"/><rect x="384.3" y="8.4" width="3.5" height=".9" fill="#a4b8f0"/><rect x="376.4" y="16.1" width="3.5" height=".9" fill="#a4b8f0"/><rect x="384.3" y="16.1" width="3.5" height=".9" fill="#a8dc90"/></g>
<use href="#sepv" x="399"/>
<!-- chart shift -->
<use href="#selbox" x="404"/>
<use href="#axis" x="410"/>
<path d="M417.6 8.6L420.8 11.6L417.6 14.6Z" fill="#90e890" stroke="#14961a" stroke-width="1"/>
<!-- autoscroll -->
<use href="#selbox" x="432"/>
<use href="#axis" x="438"/>
<path d="M446.5 6.1V15.8" stroke="#1868a8" stroke-width="1.2"/>
<path d="M447.6 11.5L450.4 9.2V10.9H452V12.1H450.4V13.8Z" fill="#e04c08"/>
<use href="#sepv" x="461"/>
<!-- indicators -->
<path d="M471.6 4.6H479.4L482.8 8V17.2H471.6Z" fill="#fbfbfb" stroke="#8a8a8a" stroke-width=".9"/>
<path d="M479.4 4.6V8H482.8" fill="#e4e4e4" stroke="#8a8a8a" stroke-width=".7"/>
<text x="472.9" y="14.6" font-size="10" font-style="italic" fill="#5a5046" style="font-family:'Liberation Serif',serif">f</text>
<path d="M479.3 10.1H482.9V14.1H487V17.6H482.9V21.5H479.3V17.6H475.3V14.1H479.3Z" fill="url(#gPlus)" stroke="#0a8c0a" stroke-width=".9" stroke-linejoin="round"/>
<use href="#dd" x="493" y="10.8"/>
<!-- clock -->
<circle cx="517" cy="12" r="8" fill="url(#gClock)"/>
<circle cx="517" cy="12" r="5.3" fill="#f6f8fc"/>
<g fill="#a8aeb8"><circle cx="517" cy="7.6" r=".5"/><circle cx="521.4" cy="12" r=".5"/><circle cx="512.6" cy="12" r=".5"/><circle cx="519.2" cy="8.2" r=".4"/><circle cx="514.8" cy="8.2" r=".4"/><circle cx="520.8" cy="14.2" r=".4"/><circle cx="513.2" cy="14.2" r=".4"/><circle cx="519.2" cy="15.8" r=".4"/><circle cx="514.8" cy="15.8" r=".4"/></g>
<path d="M515.9 8.4L517 12L520 11.5" stroke="#1c1c1c" stroke-width="1.1" fill="none"/>
<path d="M517 15.4V16.6" stroke="#78b0f0" stroke-width="1"/>
<use href="#dd" x="531.8" y="10.8"/>
<!-- template -->
<rect x="548.5" y="5.5" width="15.2" height="13.2" fill="#fff" stroke="#3670c0" stroke-width="1"/>
<rect x="549" y="5.6" width="14.2" height="1.8" fill="#5a9ce8"/>
<rect x="549" y="13" width="14.2" height=".9" fill="#3670c0"/>
<path d="M550 11.4H552.4L554.4 10.1H556.2L558 10.8L560 9.6H562.4" stroke="#a82000" stroke-width="1.1" fill="none"/>
<path d="M550.6 16.8H552.6L554.4 15.8L556.2 16.8L558.8 14.8L561.8 17.2" stroke="#109010" stroke-width="1" fill="none"/>
<use href="#dd" x="570.6" y="10.8"/>
<use href="#sepf" x="582"/><use href="#grip" x="586"/>
<!-- cursor -->
<use href="#selbox" x="592"/>
<path d="M600.3 5V16L602.9 13.5L605.1 18.9L606.9 18.1L604.7 12.9H608.1Z" fill="#505050"/>
<!-- crosshair -->
<path d="M625 12.5H631.4M633.6 12.5H640M632.5 5V11.4M632.5 13.6V19.8" stroke="#404040" stroke-width="1.1"/>
<use href="#sepv" x="649"/>
<path d="M666.5 6V19" stroke="#404040" stroke-width="1.1"/>
<path d="M689 12.5H701" stroke="#404040" stroke-width="1.1"/>
<path d="M716.8 18.9L729 6.8" stroke="#404040" stroke-width="1.1"/>
<!-- channel -->
<g stroke="#404040" stroke-width=".9" fill="none"><path d="M742.8 13.6L750.6 6.2M744.4 18L757 6.6M748.2 18.8L757 10.8"/><path d="M745.4 11.4L746.6 17.2M748.4 9L749.4 15M751.4 7L752.4 12.4M754.4 4.4L755.2 10.6"/></g>
<text x="753.6" y="21" font-size="6.6" font-weight="bold" fill="#333">E</text>
<!-- fibo -->
<g stroke="#404040" stroke-width="1" stroke-dasharray="1 1" fill="none"><path d="M772 5.5H785.4M772 8.5H785.4M772 12.5H785.4M772 16.5H782" shape-rendering="crispEdges"/></g>
<text x="781.8" y="21" font-size="6.6" font-weight="bold" fill="#333">F</text>
<text transform="translate(802.8,17) scale(.9,1)" font-size="12.2" fill="#505050" stroke="#505050" stroke-width=".45">A</text>
<!-- text label -->
<path d="M829 6.5H841M829 18.5H841M829.5 7V18M840.5 7V18" fill="none" stroke="#404040" stroke-width="1" stroke-dasharray="1 1" shape-rendering="crispEdges"/>
<rect x="828" y="5.2" width="2.4" height="1.6" fill="#404040"/>
<text x="831.2" y="17" font-size="11.6" fill="#505050" stroke="#505050" stroke-width=".45">T</text>
<!-- arrows -->
<path d="M856 9.6L859.3 6L862.6 9.6L861 11H857.6Z" fill="#505050"/>
<path d="M857.8 13.2L860.2 15.6L864.8 10.4" stroke="#505050" stroke-width="1.3" fill="none"/>
<path d="M863.2 15.6L864.8 14.2H868.4L870 15.6L866.6 19.2Z" fill="#505050"/>
<use href="#dd" x="877" y="10.8"/>
<use href="#sepf" x="888"/><use href="#grip" x="892"/>
<!-- timeframes -->
<use href="#selbox" x="1038"/>
<g font-size="10.2" fill="#383838" text-anchor="middle">
<text transform="translate(910,15.8) scale(.91,1)">M1</text><text transform="translate(938.1,15.8) scale(.91,1)">M5</text><text transform="translate(966.6,15.8) scale(.91,1)">M15</text><text transform="translate(994.5,15.8) scale(.91,1)">M30</text><text transform="translate(1022.4,15.8) scale(.91,1)">H1</text><text transform="translate(1049.7,15.8) scale(.91,1)">H4</text><text transform="translate(1078.3,15.8) scale(.91,1)">D1</text><text transform="translate(1107.1,15.8) scale(.91,1)">W1</text><text transform="translate(1134,15.8) scale(.91,1)">MN</text>
</g>
<use href="#sepf" x="1149"/>
<!-- search -->
<path d="M1616.6 12.4L1612.2 16.6" stroke="#2a5ad4" stroke-width="2.4" stroke-linecap="round"/>
<circle cx="1619.6" cy="9.5" r="4" fill="#fbfbff" stroke="#2f62d8" stroke-width="1.3"/>
<!-- chat -->
<path d="M1636.4 14C1636.4 8 1648 8 1648 14C1648 17.6 1644 18.6 1640.6 18.2L1639 20.4L1638.8 17.6C1637.2 16.8 1636.4 15.6 1636.4 14Z" fill="#e2e2ee" stroke="#b8b8b8" stroke-width=".8"/>
<circle cx="1650.5" cy="9.4" r="8.4" fill="url(#gRed)"/>
<text x="1649.7" y="13.9" font-size="12.2" fill="#fff" stroke="#fff" stroke-width=".35" text-anchor="middle" style="font-family:'DejaVu Sans','Liberation Sans',sans-serif">1</text>
</svg>

</div>
</body></html>
